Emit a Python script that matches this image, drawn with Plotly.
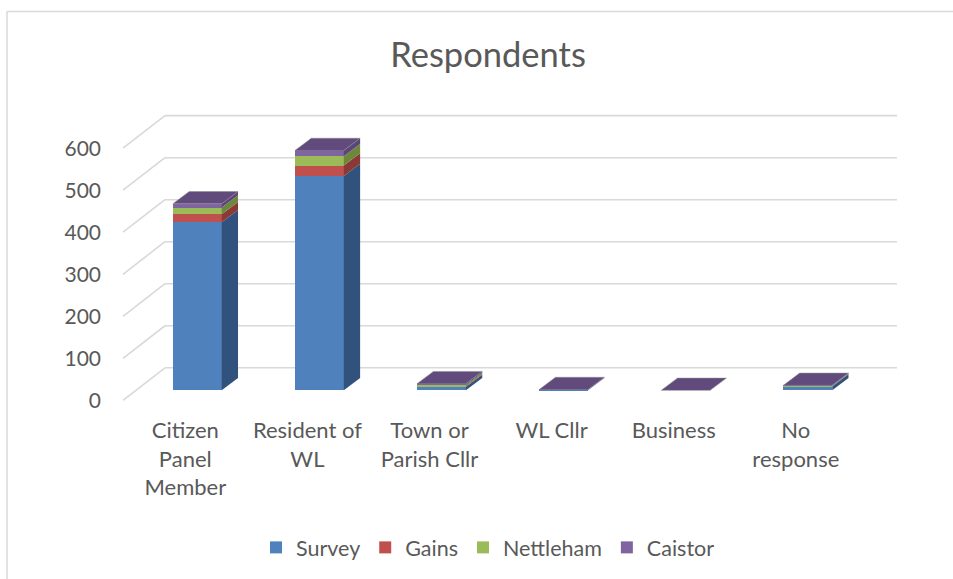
import plotly.graph_objects as go

categories = ["Citizen<br>Panel<br>Member", "Resident of<br>WL", "Town or<br>Parish Cllr", "WL Cllr", "Business", "No<br>response"]
series_names = ["Survey", "Gains", "Nettleham", "Caistor"]
survey = [400, 510, 8, 1, 0, 9]
gains = [19, 25, 2, 0, 0, 1]
nettleham = [16, 22, 3, 0, 0, 1]
caistor = [9, 14, 3, 1, 0, 1]
y_ticks = [0, 100, 200, 300, 400, 500, 600]

front_colors = ["#4F81BD", "#C0504D", "#9BBB59", "#8064A2"]
side_colors = ["#30527C", "#8A3937", "#6D873B", "#5A4678"]
top_color = "#614B7D"

# geometry (pixels)
W, H = 953, 579
L, R, T, B = 110, 905, 113, 404.4
xmin, xmax = (L - 197.3) / 122.1, (R - 197.3) / 122.1
px_per_x = 122.1
px_per_y = 0.4222
ymin = -(B - 391.7) / px_per_y
ymax = ymin + (B - T) / px_per_y

bar_w = 0.4
bar_dx = 16.3 / px_per_x
bar_dy = 12.3 / px_per_y
wall_dy = 22.7 / px_per_y
wall_x0 = (165 - 197.3) / px_per_x
floor_x0 = (123 - 197.3) / px_per_x
floor_dy = -10.0 / px_per_y
wall_x1 = (897 - 197.3) / px_per_x

xs = list(range(len(categories)))
data = [survey, gains, nettleham, caistor]

fig = go.Figure()
for name, vals, col in zip(series_names, data, front_colors):
    fig.add_trace(go.Bar(x=xs, y=vals, name=name, width=bar_w,
                         marker=dict(color=col, line=dict(width=0))))

shapes = []
grid_col = "#D9D9D9"
for v in y_ticks:
    shapes.append(dict(type="line", xref="x", yref="y", layer="below",
                       x0=wall_x0, x1=wall_x1, y0=v + wall_dy, y1=v + wall_dy,
                       line=dict(color=grid_col, width=1.6)))
    shapes.append(dict(type="line", xref="x", yref="y", layer="below",
                       x0=floor_x0, x1=wall_x0, y0=v + floor_dy, y1=v + wall_dy,
                       line=dict(color=grid_col, width=1.6)))

for i, x in enumerate(xs):
    base = 0
    xr = x + bar_w / 2
    xl = x - bar_w / 2
    for s, vals in enumerate(data):
        v = vals[i]
        if v > 0:
            y0, y1 = base, base + v
            path = (f"M {xr},{y0} L {xr + bar_dx},{y0 + bar_dy} "
                    f"L {xr + bar_dx},{y1 + bar_dy} L {xr},{y1} Z")
            shapes.append(dict(type="path", xref="x", yref="y", path=path,
                               fillcolor=side_colors[s], line=dict(width=0)))
        base += v
    top = base
    path = (f"M {xl},{top} L {xl + bar_dx},{top + bar_dy} "
            f"L {xr + bar_dx},{top + bar_dy} L {xr},{top} Z")
    shapes.append(dict(type="path", xref="x", yref="y", path=path,
                       fillcolor=top_color, line=dict(color="#8A8A8A", width=0.5)))

# chart border (left and top edges visible)
def px2paper_x(p):
    return (p - L) / (R - L)

def px2paper_y(p):
    return (B - p) / (B - T)

shapes.append(dict(type="line", xref="paper", yref="paper",
                   x0=px2paper_x(7), x1=px2paper_x(7), y0=px2paper_y(11), y1=px2paper_y(590),
                   line=dict(color="#D9D9D9", width=1.5)))
shapes.append(dict(type="line", xref="paper", yref="paper",
                   x0=px2paper_x(7), x1=px2paper_x(960), y0=px2paper_y(11), y1=px2paper_y(11),
                   line=dict(color="#D9D9D9", width=1.5)))

font_family = "Lato, 'Open Sans', sans-serif"
fig.update_layout(
    width=W, height=H,
    barmode="stack",
    shapes=shapes,
    plot_bgcolor="white", paper_bgcolor="white",
    margin=dict(l=L, r=W - R, t=T, b=H - B),
    title=dict(text="Respondents", x=488 / W, xanchor="center", y=1 - 55 / H, yanchor="middle",
               font=dict(family=font_family, size=34.5, color="#595959")),
    font=dict(family=font_family, color="#595959"),
    legend=dict(orientation="h", x=px2paper_x(488), xanchor="center",
                y=px2paper_y(548), yanchor="middle",
                font=dict(size=21.5, color="#595959"), traceorder="normal",
                itemwidth=30),
    xaxis=dict(range=[xmin, xmax], tickvals=xs, ticktext=categories,
               showgrid=False, zeroline=False, showline=False,
               tickfont=dict(size=22, color="#595959"), ticklabelshift=-12,
               ticklabelstandoff=12),
    yaxis=dict(range=[ymin, ymax], tickvals=y_ticks, showgrid=False, zeroline=False,
               showline=False, tickfont=dict(size=21, color="#595959"),
               ticklabelshift=10, ticklabelstandoff=8),
    showlegend=True,
)

fig.write_html("out.html")
